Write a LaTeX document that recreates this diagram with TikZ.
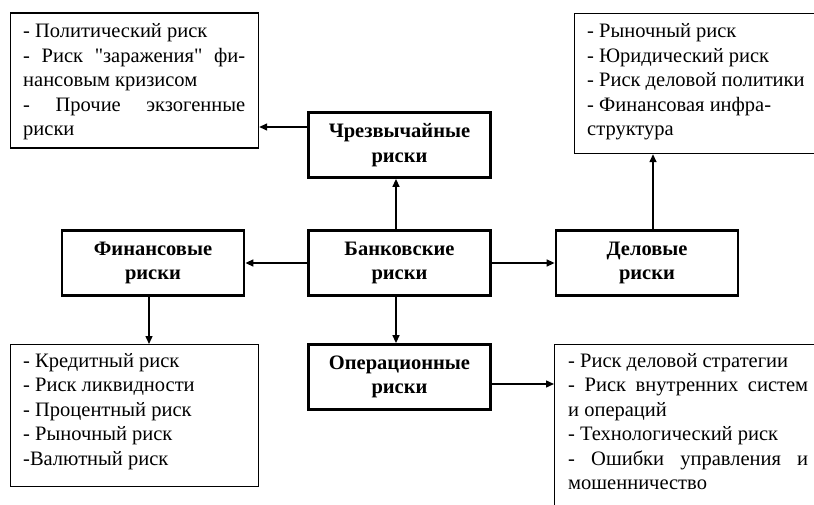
\documentclass[tikz,border=0pt]{standalone}
\usepackage{fontspec}
\setmainfont{Liberation Serif}[Ligatures=TeXOff]
\usetikzlibrary{arrows.meta}
\begin{document}
\begin{tikzpicture}[x=1pt,y=-1pt,
  catbox/.style={draw, line width=2.8pt, minimum width=182pt, minimum height=65pt,
    align=center, inner sep=0pt, font=\bfseries\fontsize{20.5}{24.4}\selectfont},
  listbox/.style={draw, line width=1.2pt, anchor=north west, inner sep=0pt},
  listtext/.style={anchor=base west, inner sep=0pt, font=\fontsize{20.5}{24.4}\selectfont},
  conn/.style={line width=1.4pt, -{Triangle[length=8pt,width=7pt]}},
]
\useasboundingbox (0,0) rectangle (814,505);
\clip (0,0) rectangle (814,505);
\fill[white] (0,0) rectangle (814,505);

% category boxes
\node[catbox] (chr)  at (399.5,145) {Чрезвычайные\\риски};
\node[catbox] (bank) at (399.5,263) {Банковские\\риски};
\node[catbox] (fin)  at (153,263)   {Финансовые\\риски};
\node[catbox] (del)  at (647,263)   {Деловые\\риски};
\node[catbox] (oper) at (399.5,377) {Операционные\\риски};

% list boxes
\node[listbox, minimum width=248pt, minimum height=135pt] (pol) at (10,12.5) {};
\node[listtext] (polt) at (23,38) {\parbox[t]{222pt}{- Политический риск\\
\makebox[222pt][s]{- Риск "заражения" фи-}\\
нансовым кризисом\\
\makebox[222pt][s]{- Прочие экзогенные}\\
риски}};

\node[listbox, minimum width=270pt, minimum height=140pt] (mkt) at (574,13) {};
\node[listtext] (mktt) at (587,38) {\parbox[t]{230pt}{- Рыночный риск\\
- Юридический риск\\
- Риск деловой политики\\
- Финансовая инфра-\\
структура}};

\node[listbox, minimum width=248pt, minimum height=142pt] (finl) at (10,344) {};
\node[listtext] (finlt) at (23,367.5) {\parbox[t]{222pt}{- Кредитный риск\\
- Риск ликвидности\\
- Процентный риск\\
- Рыночный риск\\
-Валютный риск}};

\node[listbox, minimum width=290pt, minimum height=200pt] (opl) at (554,344) {};
\node[listtext] (oplt) at (568,367.5) {\parbox[t]{240pt}{- Риск деловой стратегии\\
\makebox[240pt][s]{- Риск внутренних систем}\\
и операций\\
- Технологический риск\\
\makebox[240pt][s]{- Ошибки управления и}\\
мошенничество}};

% connectors
\draw[conn] ([xshift=-3.5pt]bank.north) -- ([xshift=-3.5pt]chr.south);
\draw[conn] ([xshift=-3.5pt]bank.south) -- ([xshift=-3.5pt]oper.north);
\draw[conn] (bank.west) -- (fin.east);
\draw[conn] (bank.east) -- (del.west);
\coordinate (c1) at ([yshift=18pt]chr.west);
\draw[conn] (c1) -- (c1 -| pol.east);
\coordinate (c2) at ([xshift=-4pt]fin.south);
\draw[conn] (c2) -- (c2 |- finl.north);
\coordinate (c3) at ([xshift=6pt]del.north);
\draw[conn] (c3) -- (c3 |- mkt.south);
\coordinate (c4) at ([yshift=-7pt]oper.east);
\draw[conn] (c4) -- (c4 -| opl.west);
\end{tikzpicture}
\end{document}
